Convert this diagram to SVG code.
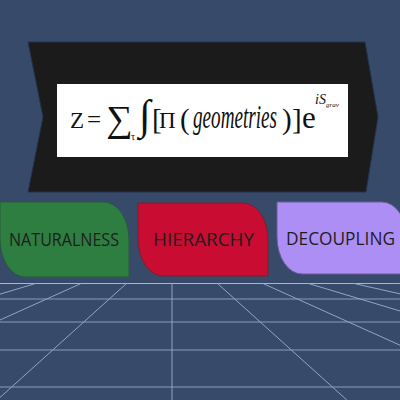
<svg xmlns="http://www.w3.org/2000/svg" width="400" height="400" viewBox="0 0 400 400">
<style>
.grid-h{stroke:#5f7494;stroke-width:2}
.grid-p{stroke:#8fa6c4;stroke-width:1}
.lbl{font-family:"Open Sans","Noto Sans",sans-serif;font-size:18px;fill:#1d1d1d}
.m{font-family:"Liberation Serif","Times New Roman",serif;fill:#111}
.mi{font-family:"Liberation Serif","Times New Roman",serif;font-style:italic;fill:#111}
</style>
<rect width="400" height="400" fill="#384a69"/>
<g id="floor">
<line class="grid-h" x1="0" y1="299" x2="400" y2="299"/>
<line class="grid-h" x1="0" y1="322" x2="400" y2="322"/>
<line class="grid-h" x1="0" y1="350" x2="400" y2="350"/>
<line class="grid-h" x1="0" y1="387" x2="400" y2="387"/>
<line x1="0" y1="283.5" x2="400" y2="283.5" stroke="#a2b7d2" stroke-width="1.2"/>
<line class="grid-p" x1="172" y1="283.5" x2="172" y2="400"/>
<line class="grid-p" x1="126.5" y1="283.5" x2="-2.8" y2="400"/>
<line class="grid-p" x1="81" y1="283.5" x2="-177.6" y2="400"/>
<line class="grid-p" x1="35.5" y1="283.5" x2="-352.4" y2="400"/>
<line class="grid-p" x1="-10" y1="283.5" x2="-527" y2="400"/>
<line class="grid-p" x1="217.5" y1="283.5" x2="346.8" y2="400"/>
<line class="grid-p" x1="263" y1="283.5" x2="521.6" y2="400"/>
<line class="grid-p" x1="308.5" y1="283.5" x2="696.4" y2="400"/>
<line class="grid-p" x1="354" y1="283.5" x2="871" y2="400"/>
<line class="grid-p" x1="399.5" y1="283.5" x2="1046" y2="400"/>
</g>
<g id="formula-banner">
<path d="M28,42 L365,42 L378,117 L366,192 L28,192 L43,117 Z" fill="#1b1b1b" stroke="#243150" stroke-width="1"/>
<rect x="57" y="84" width="291" height="73" fill="#ffffff"/>
<text class="m" y="128" font-size="23"><tspan x="70">Z</tspan><tspan x="87" font-size="25">=</tspan></text>
<text class="m" x="106" y="131" font-size="37">∑</text>
<text class="m" x="131" y="140" font-size="10">τ</text>
<text class="m" x="139" y="129" font-size="42">∫</text>
<text class="m" y="129" font-size="29"><tspan x="152">[</tspan><tspan x="159" font-size="23" dy="-1">Π</tspan><tspan x="180" dy="1">(</tspan></text>
<text class="mi" x="193" y="128" font-size="33" textLength="84" lengthAdjust="spacingAndGlyphs">geometries</text>
<text class="m" y="129" font-size="29"><tspan x="282">)</tspan><tspan x="292">]</tspan><tspan x="302" dy="-1" font-size="31">e</tspan><tspan x="315" dy="-24" font-size="14" font-style="italic">iS</tspan><tspan x="326" dy="3" font-size="7" font-style="italic">grav</tspan></text>
</g>
<g id="naturalness">
<path d="M-2,202 H104 A25,38 0 0 1 129,240 V277 H25 A25,38 0 0 1 0,239 V202 Z" fill="#2e7d41" stroke="#2a5a3a" stroke-width="1"/>
<text class="lbl" x="9" y="246" textLength="110" lengthAdjust="spacingAndGlyphs">NATURALNESS</text>
</g>
<g id="hierarchy">
<path d="M138,203 H243 A25,37 0 0 1 268,240 V276 H163 A25,37 0 0 1 138,239 Z" fill="#c90c31" stroke="#7a2030" stroke-width="1"/>
<text class="lbl" x="153" y="246" textLength="101" lengthAdjust="spacingAndGlyphs">HIERARCHY</text>
</g>
<g id="decoupling">
<path d="M277,202 H382 A25,37 0 0 1 407,239 V274 H302 A25,37 0 0 1 277,237 Z" fill="#ad8ef5" stroke="#6d5a9a" stroke-width="1"/>
<text class="lbl" x="286" y="245" textLength="109" lengthAdjust="spacingAndGlyphs">DECOUPLING</text>
</g>
</svg>
